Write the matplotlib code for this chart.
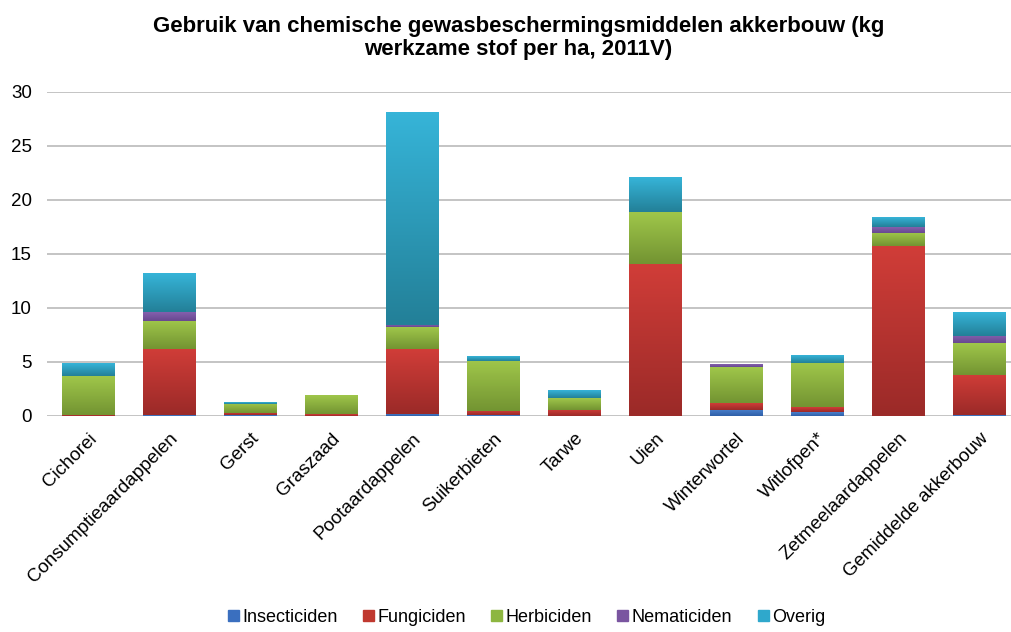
import numpy as np
import matplotlib
matplotlib.use("Agg")
import matplotlib.pyplot as plt
from matplotlib.colors import LinearSegmentedColormap

plt.rcParams['font.family'] = ['Liberation Sans', 'DejaVu Sans']

# data (kg werkzame stof per ha)
gewassen = ['Cichorei', 'Consumptieaardappelen', 'Gerst', 'Graszaad', 'Pootaardappelen',
            'Suikerbieten', 'Tarwe', 'Uien', 'Winterwortel', 'Witlofpen*',
            'Zetmeelaardappelen', 'Gemiddelde akkerbouw']
insecticiden = [0.0, 0.05, 0.05, 0.02, 0.22, 0.05, 0.03, 0.0, 0.59, 0.37, 0.02, 0.05]
fungiciden = [0.1, 6.15, 0.2, 0.17, 6.0, 0.38, 0.56, 14.06, 0.58, 0.43, 15.68, 3.71]
herbiciden = [3.6, 2.6, 0.86, 1.7, 2.0, 4.66, 1.08, 4.81, 3.33, 4.07, 1.26, 2.96]
nematiciden = [0.0, 0.83, 0.0, 0.0, 0.22, 0.0, 0.0, 0.0, 0.19, 0.0, 0.49, 0.71]
overig = [1.14, 3.55, 0.15, 0.0, 19.65, 0.43, 0.7, 3.18, 0.0, 0.68, 0.84, 2.16]

series = [('Insecticiden', insecticiden), ('Fungiciden', fungiciden), ('Herbiciden', herbiciden),
          ('Nematiciden', nematiciden), ('Overig', overig)]
# (legend colour, dark bottom, light top)
colors = {
    'Insecticiden': ('#3a6fbf', '#2f5fa8', '#4a80cc'),
    'Fungiciden': ('#c0392f', '#9b2a28', '#d03d38'),
    'Herbiciden': ('#8db640', '#739432', '#9fc64a'),
    'Nematiciden': ('#7a55a0', '#684890', '#8460ad'),
    'Overig': ('#2fa8cc', '#238098', '#36b4d8'),
}

fig = plt.figure(figsize=(10.11, 6.32), dpi=100)
ax = fig.add_axes([47 / 1011, 1 - 416 / 632, 1 - 47 / 1011, (416 - 91.7) / 632])

x = np.arange(len(gewassen))
width = 0.65
bottom = np.zeros(len(gewassen))
grad = np.linspace(0, 1, 64).reshape(-1, 1)

handles = []
for name, vals in series:
    vals = np.array(vals)
    base, dark, light = colors[name]
    bars = ax.bar(x, vals, width, bottom=bottom, color=base, label=name, zorder=2)
    cmap = LinearSegmentedColormap.from_list(name, [dark, light])
    for b in bars:
        if b.get_height() <= 0:
            continue
        bx, by = b.get_x(), b.get_y()
        ax.imshow(grad, extent=[bx, bx + b.get_width(), by, by + b.get_height()],
                  origin='lower', cmap=cmap, aspect='auto', zorder=3, interpolation='bilinear')
    handles.append(plt.Rectangle((0, 0), 1, 1, color=base))
    bottom += vals

ax.set_aspect('auto')
ax.set_xlim(-0.51, 11.39)
ax.set_ylim(0, 30)
ax.set_yticks([0, 5, 10, 15, 20, 25, 30])
ax.grid(axis='y', color='#bfbfbf', linewidth=1.3, zorder=0)
ax.set_axisbelow(True)
for s in ax.spines.values():
    s.set_visible(False)
ax.tick_params(axis='both', length=0, labelsize=13.5, colors='black')
ax.tick_params(axis='y', pad=11)
ax.set_xticks(x)
ax.set_xticklabels(gewassen, rotation=45, ha='right', rotation_mode='anchor')
ax.tick_params(axis='x', pad=10)

fig.text(0.513, 0.975, 'Gebruik van chemische gewasbeschermingsmiddelen akkerbouw (kg\nwerkzame stof per ha, 2011V)',
         ha='center', va='top', fontsize=16, fontweight='bold', linespacing=1.15)

fig.legend(handles, [s[0] for s in series], loc='lower center', bbox_to_anchor=(0.521, -0.016),
           ncol=5, frameon=False, fontsize=13, handlelength=0.6, handleheight=0.6,
           handletextpad=0.2, columnspacing=1.4)

fig.savefig('out.png', dpi=100)
